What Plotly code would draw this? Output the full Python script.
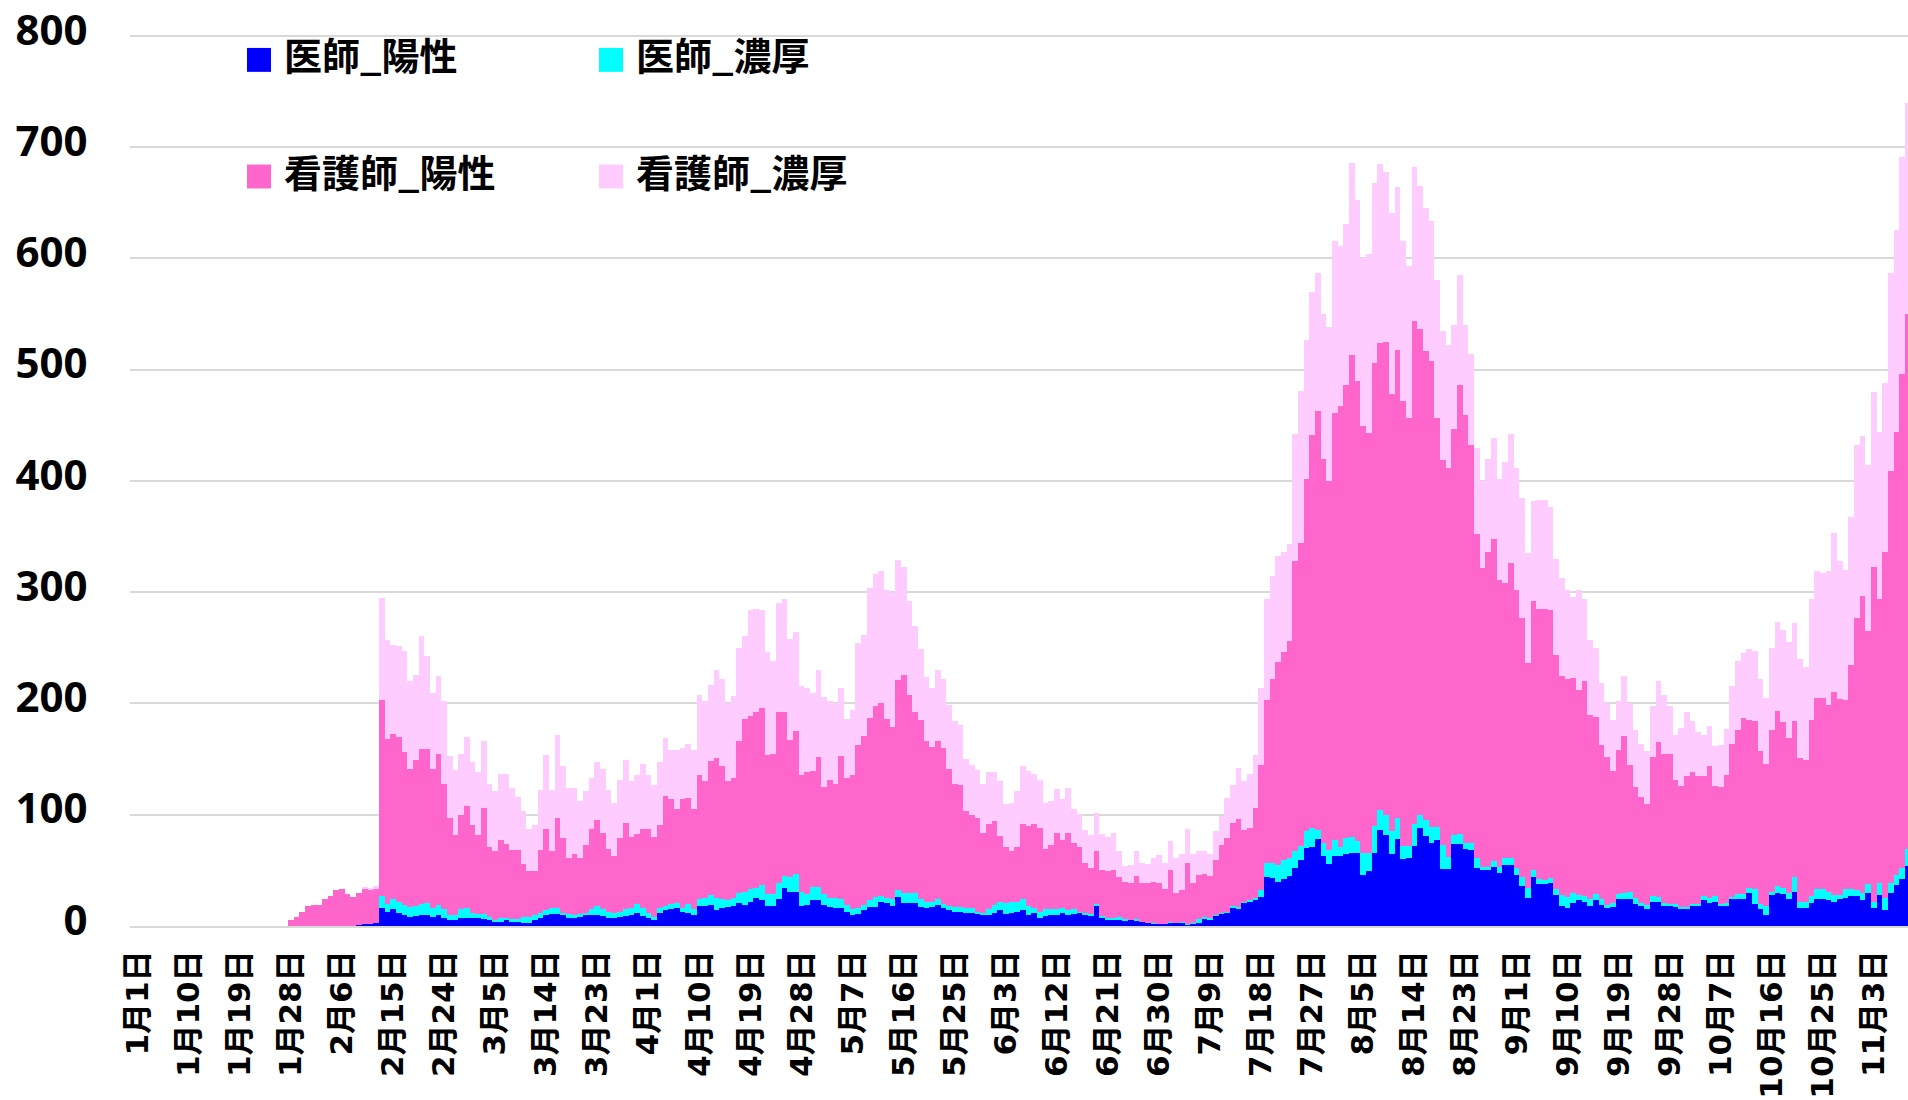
import datetime
import plotly.graph_objects as go

# ---- categories: daily, Jan 1 .. Nov 9 (non-leap year) ----
start = datetime.date(2022, 1, 1)
N_DAYS = 313
dates = [f"{(start + datetime.timedelta(days=k)).month}月{(start + datetime.timedelta(days=k)).day}日" for k in range(N_DAYS)]
tick_labels = dates[::9]

# ---- series values ----
doctor_pos = ([0] * 39 + [1, 2, 2, 3] +
    [16, 13, 15, 12, 10, 8, 9, 10, 10, 8, 10, 7, 5, 5, 7, 7] +
    [7, 7, 6, 5, 4, 4, 5, 4, 4, 3, 3, 5, 7, 10, 11, 11, 10, 7, 7, 8, 10, 10, 10, 9, 7, 7, 8, 9, 10, 12, 9, 7, 5] +
    [12, 14, 15, 16, 13, 12, 10, 18, 18, 19, 14, 16, 17, 18, 21, 19, 22, 25, 23, 18, 18, 24, 34, 31, 31, 18, 19, 23, 23, 19, 17, 16] +
    [16, 13, 10, 11, 14, 17, 17, 22, 21, 18, 26, 21, 21, 21, 17, 16, 17, 19, 16, 14, 13, 13, 12, 12, 11, 10, 10, 12, 14, 11, 12, 13, 14] +
    [10, 12, 7, 9, 10, 10, 12, 10, 11, 12, 10, 9, 18, 8, 6, 6, 5, 5, 5, 5, 4, 3, 2, 2, 2, 3, 3, 3, 1, 2, 3, 6] +
    [6, 9, 11, 12, 16, 16, 21, 22, 24, 26, 44, 43, 40, 42, 45, 52, 59, 70, 71, 78, 63, 56, 63, 63, 65, 66, 66, 46, 49, 66, 86, 82, 65] +
    [78, 60, 61, 72, 88, 81, 75, 77, 51, 51, 74, 74, 69, 68, 52, 50, 50, 53, 48, 55, 55, 46, 36, 25, 44, 38, 38, 39, 28, 18, 16, 21, 23] +
    [22, 18, 23, 19, 16, 17, 24, 24, 24, 20, 18, 15, 22, 22, 18, 18, 17, 16, 16, 18, 18, 23, 21, 22, 18, 18, 24, 24, 24, 30, 20, 15, 10] +
    [28, 30, 29, 24, 31, 16, 16, 21, 24, 24, 23, 22, 24, 25, 27, 27, 23, 30, 16, 28, 14, 30, 37, 42, 54])

doctor_contact = ([0] * 43 +
    [11, 7, 9, 10, 9, 9, 9, 10, 11, 8, 9, 8, 5, 5, 8, 9] +
    [5, 4, 5, 3, 1, 3, 2, 2, 2, 5, 5, 5, 5, 4, 5, 5, 2, 4, 3, 3, 2, 5, 8, 6, 6, 5, 5, 6, 6, 8, 7, 5, 3] +
    [4, 4, 5, 5, 3, 8, 5, 6, 7, 9, 11, 8, 6, 7, 9, 12, 11, 9, 14, 11, 11, 15, 11, 13, 16, 13, 10, 12, 12, 10, 8, 9] +
    [8, 6, 5, 5, 5, 6, 9, 5, 4, 6, 6, 9, 9, 9, 7, 6, 5, 5, 4, 4, 4, 4, 4, 4, 2, 2, 5, 7, 8, 10, 10, 9, 10] +
    [8, 4, 6, 6, 5, 5, 4, 4, 4, 1, 2, 2, 2, 1, 1, 1, 3, 1, 0, 1, 0, 0, 1, 0, 0, 1, 0, 1, 1, 1, 3, 2] +
    [1, 1, 1, 1, 2, 1, 1, 1, 1, 6, 13, 14, 15, 17, 16, 15, 13, 15, 17, 8, 12, 12, 14, 8, 14, 14, 10, 20, 17, 24, 18, 18, 20] +
    [19, 12, 11, 20, 12, 14, 14, 12, 22, 11, 8, 9, 6, 7, 9, 3, 3, 5, 5, 6, 6, 6, 8, 9, 6, 4, 3, 4, 5, 10, 10, 9, 5] +
    [5, 6, 6, 5, 3, 4, 5, 6, 7, 5, 3, 4, 5, 4, 3, 2, 3, 1, 1, 2, 2, 4, 4, 5, 2, 3, 2, 5, 5, 4, 13, 5, 8] +
    [3, 6, 5, 6, 13, 6, 6, 6, 9, 9, 8, 6, 4, 8, 6, 5, 7, 8, 6, 11, 11, 9, 9, 10, 15])

nurse_pos = ([0] * 27 +
    [5, 8, 13, 18, 19, 19, 24, 27, 32, 33, 29, 26, 29, 32, 31, 30] +
    [176, 148, 149, 148, 137, 124, 131, 139, 138, 125, 136, 113, 87, 72, 85, 92] +
    [79, 71, 95, 63, 62, 70, 67, 62, 62, 48, 41, 39, 56, 73, 51, 81, 67, 50, 55, 50, 61, 72, 77, 69, 56, 51, 66, 78, 64, 63, 71, 75, 72] +
    [75, 99, 94, 84, 98, 95, 90, 112, 105, 120, 126, 120, 107, 108, 136, 155, 156, 158, 159, 125, 126, 153, 147, 123, 128, 105, 109, 104, 117, 96, 106, 103] +
    [129, 114, 121, 147, 152, 164, 172, 173, 161, 155, 189, 196, 178, 162, 161, 144, 139, 142, 140, 123, 111, 110, 87, 84, 84, 72, 77, 75, 59, 50, 45, 49, 68] +
    [72, 76, 75, 54, 58, 69, 61, 70, 60, 58, 45, 41, 47, 41, 42, 43, 36, 34, 34, 39, 35, 36, 37, 37, 31, 46, 27, 28, 55, 36, 40, 39] +
    [38, 49, 61, 66, 75, 79, 64, 65, 81, 113, 146, 165, 182, 187, 195, 261, 272, 317, 353, 377, 345, 332, 384, 396, 407, 433, 414, 383, 377, 416, 420, 425, 393] +
    [421, 400, 385, 452, 437, 422, 419, 368, 346, 350, 365, 403, 384, 357, 291, 269, 283, 290, 258, 247, 265, 250, 233, 202, 242, 243, 244, 241, 211, 197, 196, 193, 184] +
    [193, 166, 159, 139, 133, 118, 129, 141, 114, 100, 95, 91, 125, 139, 134, 135, 111, 109, 118, 118, 115, 108, 119, 99, 105, 115, 138, 147, 158, 151, 151, 137, 128] +
    [145, 157, 149, 139, 140, 129, 127, 158, 172, 172, 168, 182, 176, 170, 202, 245, 267, 227, 301, 255, 311, 370, 398, 444, 481])

nurse_contact = ([0] * 27 +
    [0, 0, 0, 0, 0, 0, 0, 0, 0, 0, 0, 0, 0, 1, 1, 3] +
    [92, 89, 80, 82, 91, 79, 77, 102, 84, 68, 70, 74, 56, 58, 55, 62] +
    [56, 56, 60, 57, 54, 60, 63, 56, 48, 47, 38, 42, 54, 67, 55, 75, 65, 63, 59, 51, 48, 46, 52, 57, 53, 48, 52, 56, 50, 53, 59, 49, 47] +
    [56, 52, 44, 53, 46, 49, 53, 72, 72, 69, 79, 78, 70, 74, 84, 75, 95, 93, 88, 92, 83, 98, 102, 91, 89, 80, 76, 70, 78, 81, 71, 72] +
    [61, 53, 58, 91, 91, 117, 118, 119, 116, 120, 108, 97, 84, 78, 64, 58, 53, 64, 62, 58, 56, 54, 47, 45, 43, 44, 46, 44, 49, 39, 44, 50, 52] +
    [49, 45, 43, 42, 39, 39, 37, 40, 30, 30, 29, 30, 35, 33, 31, 34, 23, 14, 16, 22, 18, 17, 21, 25, 24, 26, 31, 33, 30, 26, 21, 20] +
    [20, 26, 26, 36, 34, 46, 44, 49, 48, 69, 91, 93, 96, 90, 87, 114, 137, 125, 129, 124, 130, 138, 155, 144, 145, 173, 163, 151, 161, 162, 161, 153, 163] +
    [146, 144, 136, 138, 128, 128, 126, 124, 116, 110, 93, 99, 81, 82, 78, 78, 84, 91, 91, 109, 116, 110, 108, 99, 90, 98, 98, 93, 86, 88, 80, 73, 90] +
    [74, 67, 62, 55, 48, 46, 44, 54, 55, 51, 48, 47, 46, 55, 53, 43, 41, 52, 57, 46, 39, 37, 36, 36, 38, 41, 52, 62, 58, 64, 63, 65, 59] +
    [74, 80, 83, 86, 88, 89, 84, 109, 114, 112, 120, 143, 124, 117, 133, 155, 143, 149, 157, 150, 152, 178, 182, 195, 190])

series_names = ["医師_陽性", "医師_濃厚", "看護師_陽性", "看護師_濃厚"]
series_values = [doctor_pos, doctor_contact, nurse_pos, nurse_contact]
series_colors = ["#0000FF", "#00FFFF", "#FF66CC", "#FFCCFF"]

W, H = 1908, 1100
L, R, T, B = 130, 0, 26, 174
pw, ph = W - L - R, H - T - B
Y_TOP = ph / (893 / 800)   # keeps 800 at the same height, with a little headroom above it

def px_x(x):
    return (x - L) / pw

def px_y(y):
    return (H - B - y) / ph

fig = go.Figure()
for name, vals, color in zip(series_names, series_values, series_colors):
    fig.add_trace(go.Bar(
        x=dates, y=vals, name=name, showlegend=False,
        marker=dict(color=color, line=dict(width=0)),
    ))

# legend: 2 x 2 grid of coloured squares and labels
legend_font = dict(family="Noto Sans CJK JP", size=38, color="black", weight="bold")
col_marker_left = [247, 599]
row_center = [57, 174]
for k, (name, color) in enumerate(zip(series_names, series_colors)):
    r, c = divmod(k, 2)
    x0 = col_marker_left[c]
    yc = row_center[r]
    fig.add_shape(type="rect", xref="paper", yref="paper",
                  x0=px_x(x0), x1=px_x(x0 + 24), y0=px_y(yc + 12), y1=px_y(yc - 12),
                  fillcolor=color, line=dict(width=0), layer="above")
    fig.add_annotation(xref="paper", yref="paper", x=px_x(x0 + 35), y=px_y(yc - 6),
                       xanchor="left", yanchor="middle", text=name, showarrow=False,
                       font=legend_font)

fig.update_layout(
    width=W, height=H,
    margin=dict(l=L, r=R, t=T, b=B, pad=0),
    paper_bgcolor="white", plot_bgcolor="white",
    barmode="stack", bargap=0,
    showlegend=False,
    xaxis=dict(
        type="category", range=[-1.36, 312.0],
        tickmode="array", tickvals=tick_labels, ticktext=tick_labels,
        tickangle=-90, ticks="outside", ticklen=10, tickcolor="rgba(0,0,0,0)",
        tickfont=dict(family="DejaVu Sans, Noto Sans CJK JP", size=31, color="black", weight="bold"),
        showgrid=False, showline=True, linecolor="#d9d9d9", linewidth=2,
        zeroline=False,
    ),
    yaxis=dict(
        range=[0, Y_TOP], tickmode="array", tickvals=[0, 100, 200, 300, 400, 500, 600, 700, 800],
        showgrid=True, gridcolor="#d9d9d9", gridwidth=1.5,
        zeroline=False, showline=False,
        ticks="outside", ticklen=33, tickcolor="rgba(0,0,0,0)",
        ticklabelshift=-6, ticklabeloverflow="allow",
        tickfont=dict(family="Open Sans", size=42, color="black", weight="bold"),
    ),
)

fig.write_html("out.html", config={"displayModeBar": False},
               post_script="document.body.style.margin='0';document.body.style.overflow='hidden';")
